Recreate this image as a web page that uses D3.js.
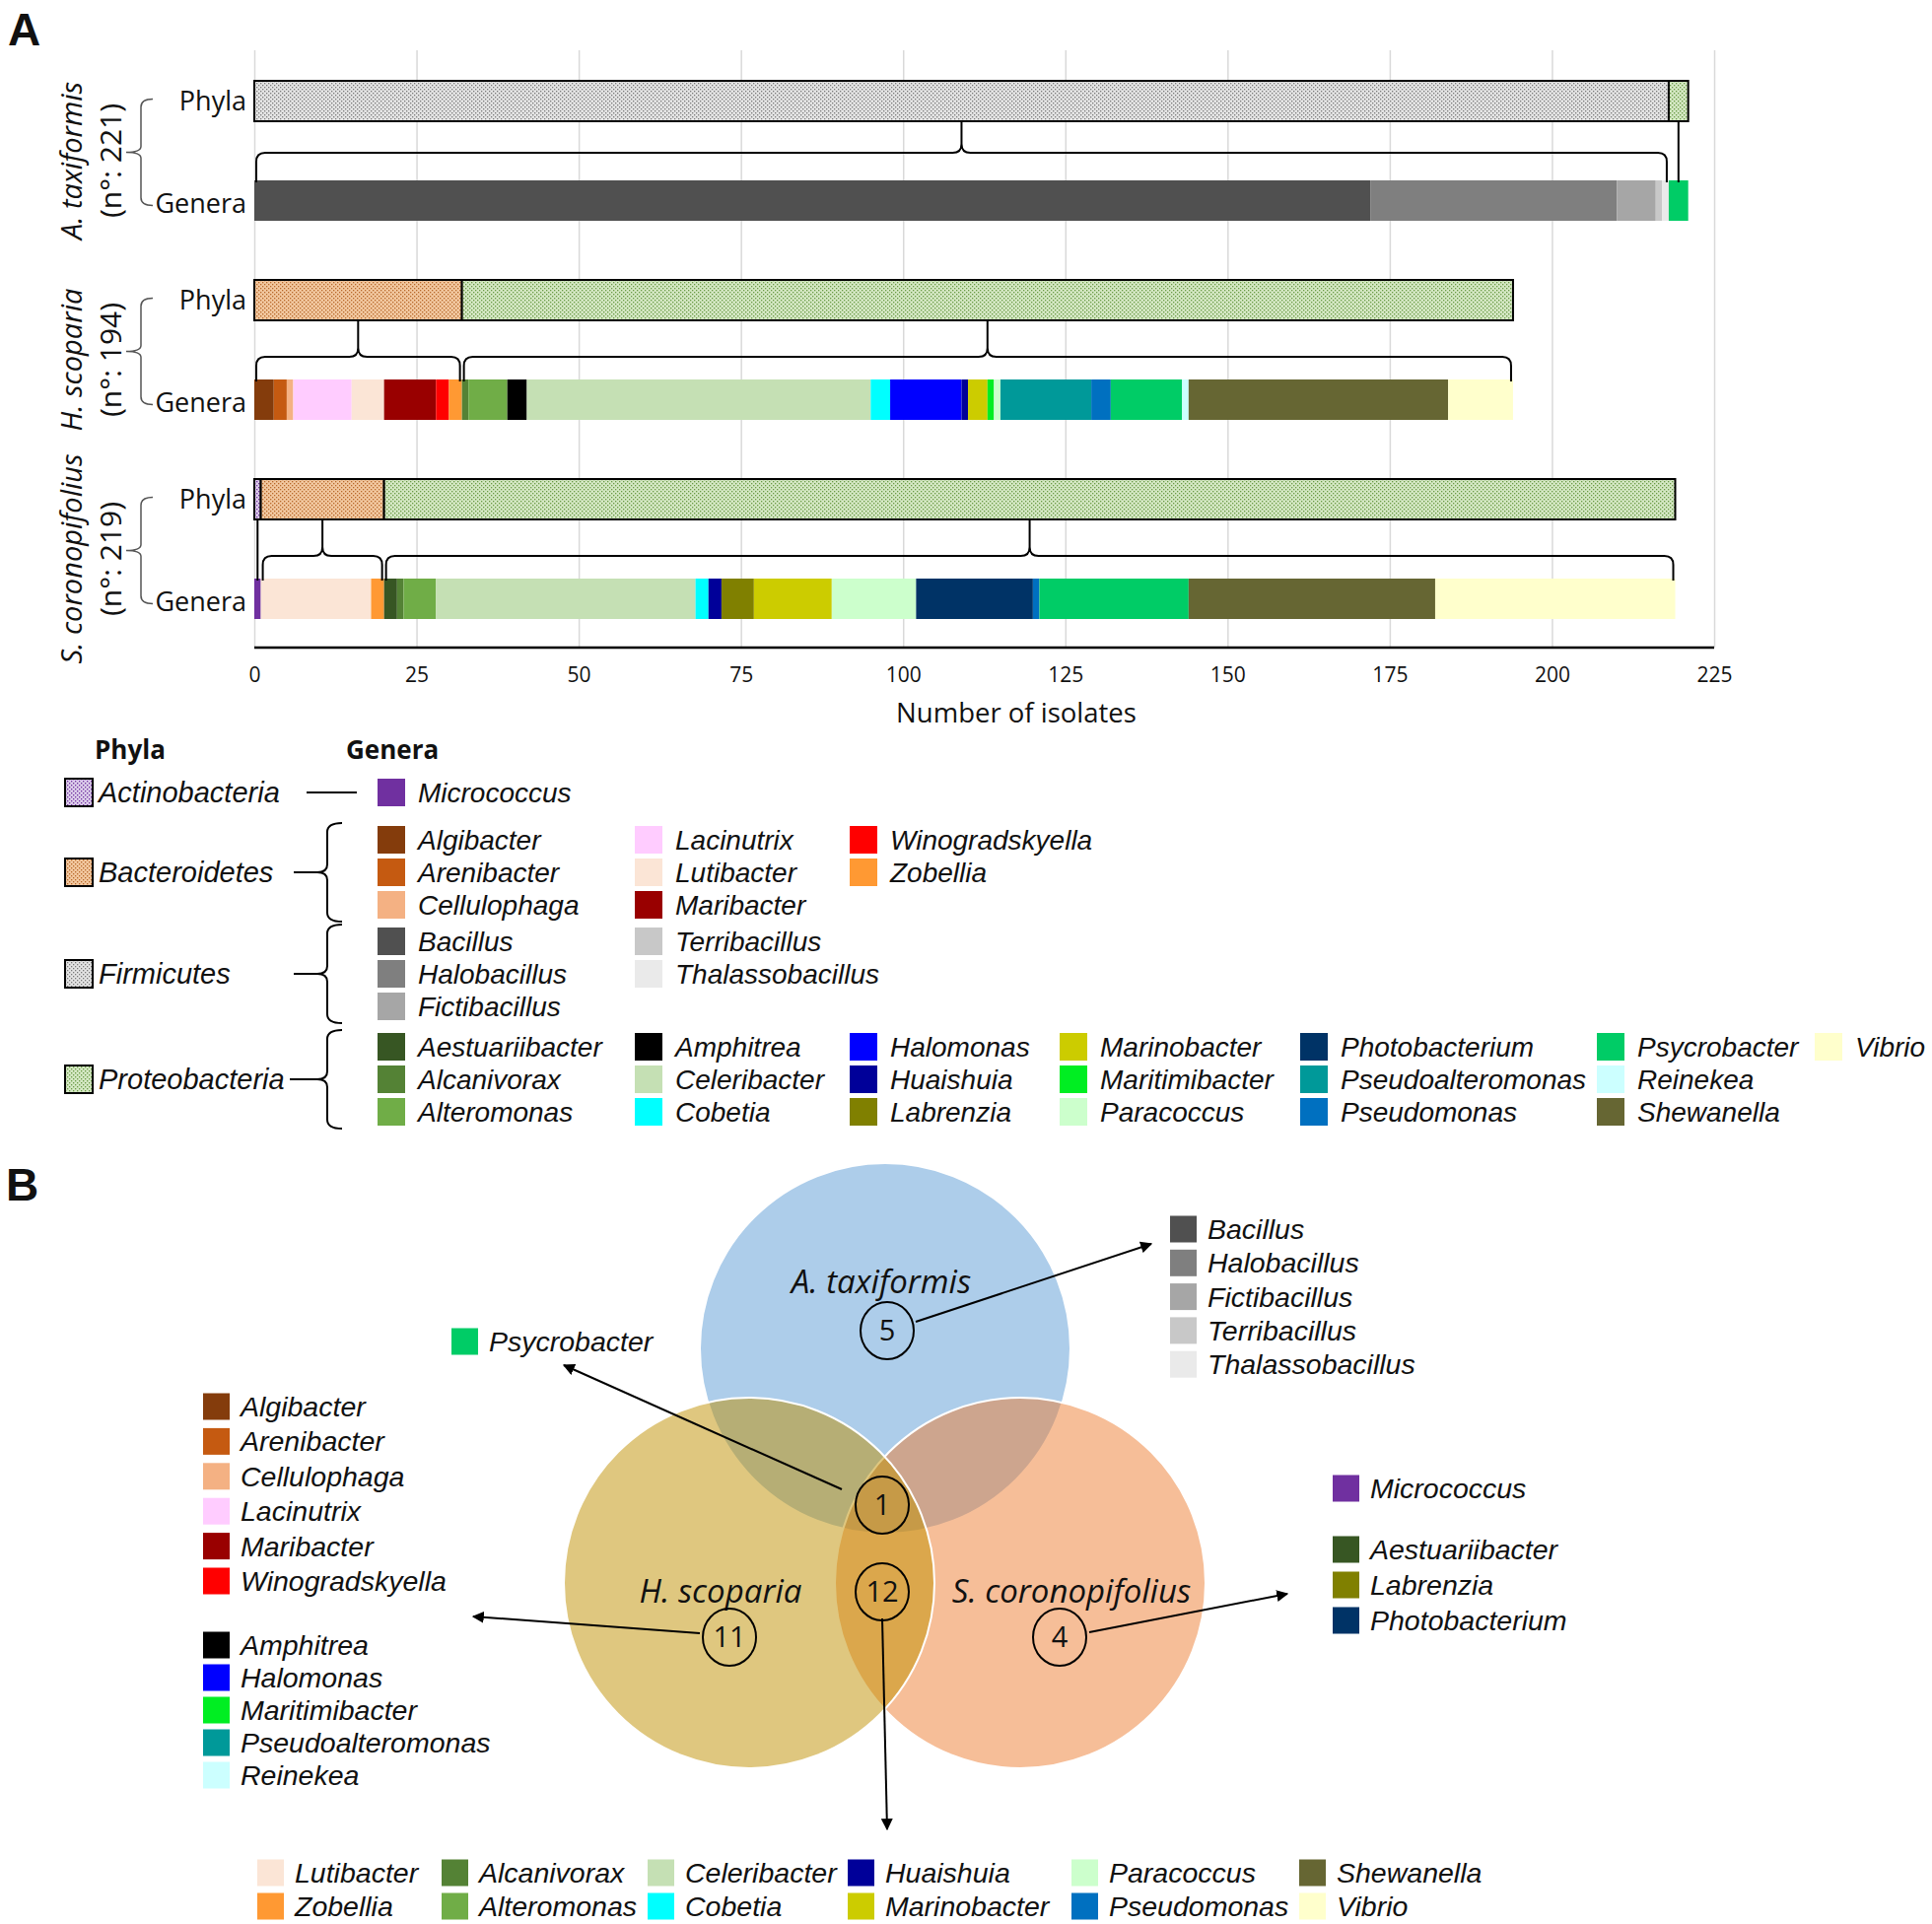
<!DOCTYPE html>
<html>
<head>
<meta charset="utf-8">
<script src="https://cdn.jsdelivr.net/npm/d3@7/dist/d3.min.js"></script>
<style>
body { margin: 0; background: #fff; }
text { font-family: "Open Sans", sans-serif; fill: #111; }
.it { font-style: italic; }
text.leg { font-family: "Liberation Sans", Arial, sans-serif; font-style: italic; }
</style>
</head>
<body>
<svg id="fig" width="1960" height="1952"></svg>
<script>
// ---- data ----
var samples = ["A. taxiformis", "H. scoparia", "S. coronopifolius"];
var sampleN = [221, 194, 219];
var phyla = ["Actinobacteria", "Bacteroidetes", "Firmicutes", "Proteobacteria"];

var genera = ["Micrococcus",
  "Algibacter", "Arenibacter", "Cellulophaga", "Lacinutrix", "Lutibacter", "Maribacter", "Winogradskyella", "Zobellia",
  "Bacillus", "Halobacillus", "Fictibacillus", "Terribacillus", "Thalassobacillus",
  "Aestuariibacter", "Alcanivorax", "Alteromonas", "Amphitrea", "Celeribacter", "Cobetia", "Halomonas", "Huaishuia",
  "Labrenzia", "Marinobacter", "Maritimibacter", "Paracoccus", "Photobacterium", "Pseudoalteromonas", "Pseudomonas",
  "Psycrobacter", "Reinekea", "Shewanella", "Vibrio"];
var generaPhylum = [0, 1,1,1,1,1,1,1,1, 2,2,2,2,2, 3,3,3,3,3,3,3,3,3,3,3,3,3,3,3,3,3,3,3];
var generaColors = ["#7030A0",
  "#843C0C", "#C55A11", "#F4B183", "#FFCCFF", "#FBE5D6", "#990000", "#FF0000", "#FF9933",
  "#505050", "#7F7F7F", "#A6A6A6", "#C8C8C8", "#EAEAEA",
  "#375623", "#548235", "#70AD47", "#000000", "#C5E0B4", "#00FFFF", "#0000FF", "#000099",
  "#808000", "#CCCC00", "#00EE22", "#CCFFCC", "#003366", "#009999", "#0070C0",
  "#00CC66", "#CCFFFF", "#666633", "#FFFFCC"];

// isolates per genus, same order as genera
var taxiformisCounts = [0, 0,0,0,0,0,0,0,0, 172,38,6,1,1, 0,0,0,0,0,0,0,0,0,0,0,0,0,0,0,3,0,0,0];
var scopariaCounts   = [0, 3,2,1,9,5,8,2,2, 0,0,0,0,0, 0,1,6,3,53,3,11,1,0,3,1,1,0,14,3,11,1,40,10];
var coronoCounts     = [1, 0,0,0,0,17,0,0,2, 0,0,0,0,0, 2,1,5,0,40,2,0,2,5,12,0,13,18,0,1,23,0,38,37];
var sampleCounts = [taxiformisCounts, scopariaCounts, coronoCounts];

var xTicks = [0, 25, 50, 75, 100, 125, 150, 175, 200, 225];

// Venn
var vennTopRight = ["Bacillus", "Halobacillus", "Fictibacillus", "Terribacillus", "Thalassobacillus"];
var vennShared3 = ["Psycrobacter"];
var vennLeftA = ["Algibacter", "Arenibacter", "Cellulophaga", "Lacinutrix", "Maribacter", "Winogradskyella"];
var vennLeftB = ["Amphitrea", "Halomonas", "Maritimibacter", "Pseudoalteromonas", "Reinekea"];
var vennRightA = ["Micrococcus"];
var vennRightB = ["Aestuariibacter", "Labrenzia", "Photobacterium"];
var vennBottom = ["Lutibacter", "Zobellia", "Alcanivorax", "Alteromonas", "Celeribacter", "Cobetia",
  "Huaishuia", "Marinobacter", "Paracoccus", "Pseudomonas", "Shewanella", "Vibrio"];
var vennCounts = [5, 1, 11, 12, 4];

function colorOf(name) { return generaColors[genera.indexOf(name)]; }

var svg = d3.select("#fig");
var defs = svg.append("defs");

// stippled patterns for phyla
var phylaBase = ["#DCCDEA", "#F2C8A0", "#E4E4E4", "#D5E8C4"];
var phylaDot = ["#7030A0", "#B8682A", "#7A7A7A", "#6A9A45"];
phyla.forEach(function (p, i) {
  var pat = defs.append("pattern").attr("id", "pat" + i)
    .attr("width", 4).attr("height", 4).attr("patternUnits", "userSpaceOnUse");
  pat.append("rect").attr("width", 4).attr("height", 4).attr("fill", phylaBase[i]);
  pat.append("rect").attr("x", 0).attr("y", 0).attr("width", 1.3).attr("height", 1.3).attr("fill", phylaDot[i]);
  pat.append("rect").attr("x", 2).attr("y", 2).attr("width", 1.3).attr("height", 1.3).attr("fill", phylaDot[i]);
});
defs.append("marker").attr("id", "arr").attr("viewBox", "0 0 10 10").attr("refX", 9).attr("refY", 5)
  .attr("markerWidth", 6).attr("markerHeight", 6).attr("orient", "auto-start-reverse")
  .append("path").attr("d", "M0,0 L10,5 L0,10 z").attr("fill", "#000");

// panel letters
svg.append("text").attr("x", 8).attr("y", 46).attr("font-size", 46).attr("font-weight", "bold")
  .style("font-family", "Liberation Sans, Arial").text("A");
svg.append("text").attr("x", 6).attr("y", 1218).attr("font-size", 46).attr("font-weight", "bold")
  .style("font-family", "Liberation Sans, Arial").text("B");

// ---- Panel A: stacked bars ----
var x = d3.scaleLinear().domain([0, 225]).range([258, 1739]);
var rowKeys = [];
samples.forEach(function (s) { rowKeys.push(s + "|Phyla", s + "|Genera"); });
var y = d3.scalePoint().domain(rowKeys).range([102.5, 607.5]);
var barH = 41;
var axisY = 657;

svg.append("g").attr("transform", "translate(0," + axisY + ")")
  .call(d3.axisBottom(x).tickValues(xTicks).tickSize(-(axisY - 51)).tickFormat(""))
  .call(function (g) { g.select(".domain").remove(); })
  .selectAll("line").attr("stroke", "#D9D9D9").attr("stroke-width", 1.5);

var ax = svg.append("g").attr("transform", "translate(0," + axisY + ")")
  .call(d3.axisBottom(x).tickValues(xTicks).tickSize(0).tickPadding(20));
ax.select(".domain").remove();
ax.selectAll("text").attr("font-size", 21).style("font-family", "Open Sans, sans-serif").attr("fill", "#111");
svg.append("line").attr("x1", x(0)).attr("x2", x(225)).attr("y1", axisY).attr("y2", axisY)
  .attr("stroke", "#000").attr("stroke-width", 2.5);
svg.append("text").attr("x", 1031).attr("y", 733).attr("text-anchor", "middle").attr("font-size", 27.5)
  .text("Number of isolates");

function bracePath(x0, x1, yTop, yH, yBot) {
  var xm = (x0 + x1) / 2, r = Math.min(9, (x1 - x0) / 4);
  return "M" + x0 + "," + yBot + " L" + x0 + "," + (yH + r) + " Q" + x0 + "," + yH + " " + (x0 + r) + "," + yH +
    " L" + (xm - r) + "," + yH + " Q" + xm + "," + yH + " " + xm + "," + (yH - r) + " L" + xm + "," + yTop +
    " M" + xm + "," + (yH - r) + " Q" + xm + "," + yH + " " + (xm + r) + "," + yH +
    " L" + (x1 - r) + "," + yH + " Q" + x1 + "," + yH + " " + x1 + "," + (yH + r) + " L" + x1 + "," + yBot;
}

samples.forEach(function (s, si) {
  var counts = sampleCounts[si];
  var yP = y(s + "|Phyla"), yG = y(s + "|Genera");

  // genera segments
  var segs = [], acc = 0;
  counts.forEach(function (c, gi) {
    if (c > 0) { segs.push({ name: genera[gi], x0: acc, x1: acc + c }); acc += c; }
  });
  svg.append("g").selectAll("rect").data(segs).enter().append("rect")
    .attr("x", function (d) { return x(d.x0); })
    .attr("width", function (d) { return x(d.x1) - x(d.x0); })
    .attr("y", yG - barH / 2).attr("height", barH)
    .attr("fill", function (d) { return colorOf(d.name); });

  // phyla segments
  var psegs = []; acc = 0;
  phyla.forEach(function (p, pi) {
    var tot = d3.sum(counts.filter(function (c, gi) { return generaPhylum[gi] === pi; }));
    if (tot > 0) { psegs.push({ pi: pi, x0: acc, x1: acc + tot }); acc += tot; }
  });
  svg.append("g").selectAll("rect").data(psegs).enter().append("rect")
    .attr("x", function (d) { return x(d.x0); })
    .attr("width", function (d) { return x(d.x1) - x(d.x0); })
    .attr("y", yP - barH / 2).attr("height", barH)
    .attr("fill", function (d) { return "url(#pat" + d.pi + ")"; })
    .attr("stroke", "#000").attr("stroke-width", 2);

  // braces from phyla to genera
  var pBot = yP + barH / 2, gTop = yG - barH / 2;
  var braceOff = si === 0 ? 28 : 23;
  psegs.forEach(function (d) {
    if (d.x1 - d.x0 < 5) {
      var xc = x((d.x0 + d.x1) / 2);
      svg.append("line").attr("x1", xc).attr("x2", xc).attr("y1", pBot).attr("y2", gTop + 2)
        .attr("stroke", "#000").attr("stroke-width", 2);
    } else {
      svg.append("path").attr("d", bracePath(x(d.x0) + 2, x(d.x1) - 2, pBot, gTop - braceOff, gTop + 2))
        .attr("fill", "none").attr("stroke", "#000").attr("stroke-width", 2);
    }
  });

  // row labels
  svg.append("text").attr("x", 250).attr("y", yP + 9).attr("text-anchor", "end").attr("font-size", 27).text("Phyla");
  svg.append("text").attr("x", 250).attr("y", yG + 12).attr("text-anchor", "end").attr("font-size", 27).text("Genera");
  var t = yP - 2, b = yG + 5, m = (t + b) / 2;
  svg.append("path").attr("d", "M155," + t + " Q143," + t + " 143," + (t + 8) + " L143," + (m - 6) +
      " Q143," + m + " 128," + m + " Q143," + m + " 143," + (m + 6) + " L143," + (b - 8) +
      " Q143," + b + " 155," + b)
    .attr("fill", "none").attr("stroke", "#555").attr("stroke-width", 1.5);

  var cy = (yP + yG) / 2 + 10;
  svg.append("text").attr("class", "it").attr("font-size", 29).attr("text-anchor", "middle")
    .attr("transform", "translate(83," + cy + ") rotate(-90)").text(s);
  svg.append("text").attr("font-size", 30).attr("text-anchor", "middle")
    .attr("transform", "translate(123," + cy + ") rotate(-90)").text("(n\u00b0: " + sampleN[si] + ")");
});

// ---- Panel A legend ----
var lg = svg.append("g");
var legFont = 28;
lg.append("text").attr("x", 96).attr("y", 770).attr("font-size", 26).attr("font-weight", "bold").text("Phyla");
lg.append("text").attr("x", 351).attr("y", 770).attr("font-size", 26).attr("font-weight", "bold").text("Genera");
var colSwatchX = [383, 644, 862, 1075, 1319, 1620, 1841];
var groupTopY = [804, 852, 955, 1062];
var rowStep = 33;
phyla.forEach(function (p, pi) {
  var members = genera.filter(function (g, gi) { return generaPhylum[gi] === pi; });
  var nRows = Math.min(3, members.length);
  var midY = groupTopY[pi] + rowStep * (nRows - 1) / 2;
  lg.append("rect").attr("x", 66).attr("y", midY - 14).attr("width", 28).attr("height", 28)
    .attr("fill", "url(#pat" + pi + ")").attr("stroke", "#000").attr("stroke-width", 2);
  lg.append("text").attr("class", "leg").attr("x", 100).attr("y", midY).attr("dy", "0.35em")
    .attr("font-size", 29).text(p);
  members.forEach(function (g, k) {
    var col = Math.floor(k / 3), row = k % 3;
    var cy = groupTopY[pi] + row * rowStep;
    var sx = colSwatchX[col];
    lg.append("rect").attr("x", sx).attr("y", cy - 14).attr("width", 28).attr("height", 28).attr("fill", colorOf(g));
    lg.append("text").attr("class", "leg").attr("x", sx + 41).attr("y", cy).attr("dy", "0.35em")
      .attr("font-size", legFont).text(g);
  });
  if (nRows === 1) {
    lg.append("line").attr("x1", 311).attr("x2", 362).attr("y1", midY).attr("y2", midY)
      .attr("stroke", "#000").attr("stroke-width", 2);
  } else {
    var t = groupTopY[pi] - 17, b = groupTopY[pi] + rowStep * (nRows - 1) + 17, m = midY;
    var lx = pi === 3 ? 294 : 298;
    lg.append("path").attr("d", "M" + lx + "," + m + " L322," + m + " Q332," + m + " 332," + (m - 8) + " L332," + (t + 9) +
        " Q332," + t + " 347," + t + " M322," + m + " Q332," + m + " 332," + (m + 8) + " L332," + (b - 9) +
        " Q332," + b + " 347," + b)
      .attr("fill", "none").attr("stroke", "#000").attr("stroke-width", 2);
  }
});

// ---- Panel B: Venn ----
var vg = svg.append("g");
var vr = 188;
var circles = [
  { name: "A. taxiformis", cx: 898, cy: 1368, color: "#5B9BD5" },
  { name: "S. coronopifolius", cx: 1035, cy: 1606, color: "#ED7D31" },
  { name: "H. scoparia", cx: 760, cy: 1606, color: "#BF9000" }
];
vg.selectAll("circle.set").data(circles).enter().append("circle").attr("class", "set")
  .attr("cx", function (d) { return d.cx; }).attr("cy", function (d) { return d.cy; }).attr("r", vr)
  .attr("fill", function (d) { return d.color; }).attr("fill-opacity", 0.5)
  .attr("stroke", "#fff").attr("stroke-width", 2);

vg.append("text").attr("class", "it").attr("x", 894).attr("y", 1312).attr("text-anchor", "middle").attr("font-size", 33).text(samples[0]);
vg.append("text").attr("class", "it").attr("x", 731).attr("y", 1626).attr("text-anchor", "middle").attr("font-size", 33).text(samples[1]);
vg.append("text").attr("class", "it").attr("x", 1087).attr("y", 1626).attr("text-anchor", "middle").attr("font-size", 33).text(samples[2]);

var numPos = [[900, 1350], [895, 1527], [740, 1661], [895, 1615], [1075, 1661]];
vennCounts.forEach(function (c, i) {
  vg.append("ellipse").attr("cx", numPos[i][0]).attr("cy", numPos[i][1]).attr("rx", 27).attr("ry", 29)
    .attr("fill", "none").attr("stroke", "#000").attr("stroke-width", 2);
  vg.append("text").attr("x", numPos[i][0]).attr("y", numPos[i][1]).attr("dy", "0.36em")
    .attr("text-anchor", "middle").attr("font-size", 29).text(c);
});

var arrows = [[929, 1341, 1168, 1262], [854, 1511, 572, 1385], [710, 1657, 480, 1640],
  [1105, 1656, 1306, 1617], [895, 1642, 900, 1856]];
arrows.forEach(function (a) {
  vg.append("line").attr("x1", a[0]).attr("y1", a[1]).attr("x2", a[2]).attr("y2", a[3])
    .attr("stroke", "#000").attr("stroke-width", 2).attr("marker-end", "url(#arr)");
});

function vennList(names, sx, y0, step) {
  names.forEach(function (g, k) {
    var cy = y0 + k * step;
    vg.append("rect").attr("x", sx).attr("y", cy - 13.5).attr("width", 27).attr("height", 27).attr("fill", colorOf(g));
    vg.append("text").attr("class", "leg").attr("x", sx + 38).attr("y", cy).attr("dy", "0.35em")
      .attr("font-size", 28.5).text(g);
  });
}
vennList(vennTopRight, 1187, 1247, 34.3);
vennList(vennShared3, 458, 1361, 0);
vennList(vennLeftA, 206, 1427, 35.4);
vennList(vennLeftB, 206, 1669, 33);
vennList(vennRightA, 1352, 1510, 0);
vennList(vennRightB, 1352, 1572, 36);
var bottomCols = [261, 448, 657, 860, 1087, 1318];
bottomCols.forEach(function (sx, ci) {
  vennList(vennBottom.slice(ci * 2, ci * 2 + 2), sx, 1900, 34);
});
</script>
</body>
</html>
